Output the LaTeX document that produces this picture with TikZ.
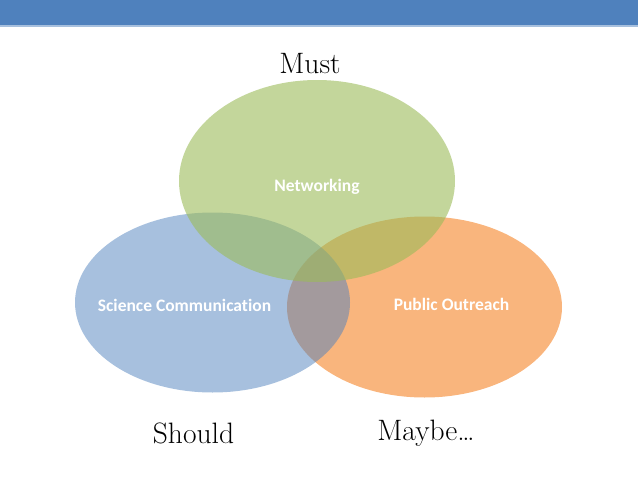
\documentclass[tikz,border=0pt]{standalone}
\usepackage{fontspec}
\setsansfont[Ligatures=NoCommon]{Carlito}
\usepackage{xcolor}
\usetikzlibrary{shapes.geometric, positioning}

\definecolor{barblue}{HTML}{4F81BD}
\definecolor{barline}{HTML}{A7C0DE}
\definecolor{setgreen}{HTML}{9BBB59}
\definecolor{setblue}{HTML}{4F81BD}
\definecolor{setorange}{HTML}{F9B57D}

\begin{document}
\begin{tikzpicture}[x=1pt, y=-1pt,
		set/.style={ellipse, draw=none, inner sep=0pt},
		setlabel/.style={font=\sffamily\bfseries\fontsize{17.5}{20}\selectfont, text=white},
		level/.style={font=\fontsize{29.5}{32}\selectfont, text=black}]
			\useasboundingbox (0,0) rectangle (638,479);
			\fill[barblue] (0,0) rectangle (638,25);
			\fill[barline] (0,25) rectangle (638,26.5);
			
			\node[set, fill=setorange, minimum width=275pt, minimum height=181pt] (outreach) at (424.5,307) {};
			\node[set, fill=setblue, fill opacity=0.5, minimum width=275pt, minimum height=180pt] (science) at (212.5,302.5) {};
			\node[set, fill=setgreen, fill opacity=0.6, minimum width=276pt, minimum height=202pt] (network) at (317,181) {};
			
			\node[setlabel] (lnet) at (317,187) {Networking};
			\node[setlabel] (lsci) at (184.5,305) {Science Communication};
			\node[setlabel] (lpub) at (451.5,304) {Public Outreach};
			
			\node[level] (must) at (310,64) {Must};
			\node[level] (should) at (193.5,433) {Should};
			\node[level] (maybe) at (426,433) {Maybe\ldots};
			
		\end{tikzpicture}
\end{document}
